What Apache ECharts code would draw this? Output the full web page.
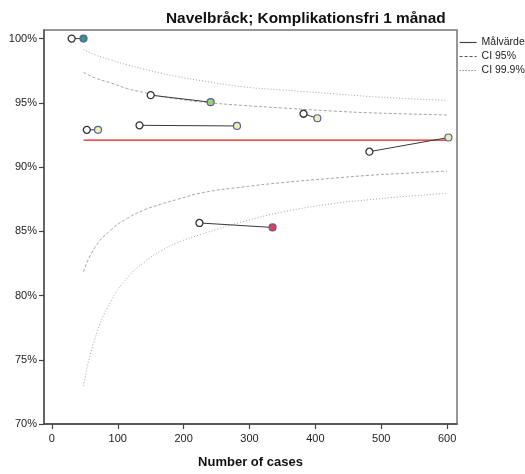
<!DOCTYPE html>
<html><head><meta charset="utf-8">
<script src="https://cdn.jsdelivr.net/npm/echarts@6/dist/echarts.min.js"></script>
<style>html,body{margin:0;padding:0;background:#fff}#c{width:525px;height:474px}</style>
</head><body><div id="c"></div>
<script>
// ---- data ----
const titleText = 'Navelbråck; Komplikationsfri 1 månad';
const xAxisName = 'Number of cases';
const xTicks = [0, 100, 200, 300, 400, 500, 600];
const yTicks = [70, 75, 80, 85, 90, 95, 100];
// previous period (open circles): [cases, %]
const prevPoints = [[30, 100], [150, 95.6], [53, 92.9], [133, 93.25], [382, 94.15], [482, 91.2], [224, 85.65]];
// current period (filled circles): [cases, %]
const currPoints = [[48, 100], [241, 95.05], [70, 92.9], [281, 93.2], [403, 93.8], [602, 92.3], [335, 85.3]];
const currColors = ['#34987a', '#9fcf6c', '#f0efb2', '#f0efb2', '#f0efb2', '#f0efb2', '#e2404e'];
// target line
const targetValue = 92.1;
const targetX = [48, 600];
// confidence limits
const ciX = [48, 65, 90, 115, 140, 165, 190, 230, 290, 350, 430, 480, 530, 600];
const ci95Upper = [97.38, 96.95, 96.54, 96.1, 95.8, 95.5, 95.3, 95.05, 94.8, 94.6, 94.35, 94.23, 94.15, 94.05];
const ci95Lower = [81.85, 83.72, 85.12, 86.02, 86.66, 87.1, 87.48, 88.02, 88.45, 88.79, 89.15, 89.35, 89.5, 89.69];
const ci999Upper = [99.15, 98.75, 98.33, 97.95, 97.62, 97.32, 97.05, 96.7, 96.25, 96.0, 95.7, 95.5, 95.35, 95.2];
const ci999Lower = [72.95, 76.6, 79.6, 81.4, 82.6, 83.46, 84.1, 84.82, 85.75, 86.5, 87.18, 87.45, 87.69, 87.95];
const legendNames = ['Målvärde', 'CI 95%', 'CI 99.9%'];

// ---- chart ----
const FONT = '"Liberation Sans", Arial, sans-serif';
const zip = (xs, ys) => xs.map((x, i) => [x, ys[i]]);
const ciStyle = (type) => ({ color: '#a6a6a6', width: 1, type: type });

const series = [];
series.push({ name: legendNames[0], type: 'line', symbol: 'none', silent: true, z: 3,
  data: targetX.map(x => [x, targetValue]), lineStyle: { color: '#e31a1c', width: 1.2 } });
[[ci95Upper, 'CI 95%', [3, 2]], [ci95Lower, 'CI 95%', [3, 2]],
 [ci999Upper, 'CI 99.9%', [1, 2]], [ci999Lower, 'CI 99.9%', [1, 2]]].forEach(([ys, nm, t]) => {
  series.push({ name: nm, type: 'line', symbol: 'none', smooth: true, silent: true, z: 2,
    data: zip(ciX, ys), lineStyle: ciStyle(t) });
});
prevPoints.forEach((p, i) => {
  series.push({ name: 'pair' + i, type: 'line', symbol: 'none', silent: true, z: 4,
    data: [p, currPoints[i]], lineStyle: { color: '#3a3a3a', width: 1 } });
});
series.push({ name: 'prev', type: 'scatter', z: 5, symbolSize: 7, data: prevPoints,
  itemStyle: { color: '#ffffff', borderColor: '#333', borderWidth: 1.3, opacity: 1 } });
series.push({ name: 'curr', type: 'scatter', z: 6, symbolSize: 7,
  data: currPoints.map((p, i) => ({ value: p, itemStyle: { color: currColors[i] } })),
  itemStyle: { borderColor: '#55609e', borderWidth: 1.2, opacity: 1 } });

const noSym = { color: 'rgba(0,0,0,0)', borderWidth: 0, borderColor: 'rgba(0,0,0,0)' };
const chart = echarts.init(document.getElementById('c'), null, { renderer: 'canvas' });
chart.setOption({
  animation: false,
  backgroundColor: '#fff',
  textStyle: { fontFamily: FONT },
  title: { text: titleText, left: 161, top: 6,
    textStyle: { fontFamily: FONT, fontSize: 15.4, fontWeight: 'bold', color: '#111' } },
  legend: {
    orient: 'vertical', left: 454, top: 32, itemWidth: 17, itemHeight: 10, itemGap: 3,
    textStyle: { fontFamily: FONT, fontSize: 10.5, color: '#222' },
    data: [
      { name: legendNames[0], itemStyle: noSym, lineStyle: { color: '#444', width: 1.2, type: 'solid' } },
      { name: legendNames[1], itemStyle: noSym, lineStyle: { color: '#555', width: 1, type: [3, 2] } },
      { name: legendNames[2], itemStyle: noSym, lineStyle: { color: '#555', width: 1, type: [1, 2] } }
    ],
    selectedMode: false
  },
  grid: { left: 44, right: 68, top: 30, bottom: 47, show: true, borderColor: '#777', borderWidth: 1.5 },
  xAxis: {
    type: 'value', min: -12, max: 615,
    name: xAxisName, nameLocation: 'middle', nameGap: 32,
    nameTextStyle: { fontFamily: FONT, fontSize: 13, fontWeight: 'bold', color: '#111' },
    axisLine: { onZero: false, lineStyle: { color: '#444', width: 1.5 } },
    axisTick: { show: true, length: 5, customValues: xTicks, lineStyle: { color: '#444', width: 1.2 } },
    axisLabel: { customValues: xTicks, margin: 9, fontSize: 11, color: '#222', fontFamily: FONT },
    splitLine: { show: false }
  },
  yAxis: {
    type: 'value', min: 70, max: 100.67,
    axisLine: { show: true, onZero: false, lineStyle: { color: '#555', width: 1.5 } },
    axisTick: { show: true, length: 5, customValues: yTicks, lineStyle: { color: '#444', width: 1.2 } },
    axisLabel: { customValues: yTicks, margin: 7, fontSize: 11, color: '#222', fontFamily: FONT,
      formatter: v => v + '%' },
    splitLine: { show: false }
  },
  series: series
});
</script></body></html>
